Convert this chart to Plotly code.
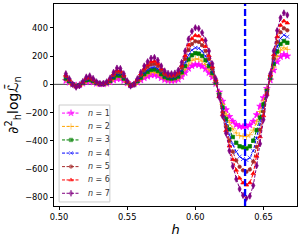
import plotly.graph_objects as go

# h grid (x values)
h = [0.505, 0.5075, 0.51, 0.5125, 0.515, 0.5175, 0.52, 0.5225, 0.525, 0.5275,
     0.53, 0.5325, 0.535, 0.5375, 0.54, 0.5425, 0.545, 0.5475, 0.55, 0.5525,
     0.555, 0.5575, 0.56, 0.5625, 0.565, 0.5675, 0.57, 0.5725, 0.575, 0.5775,
     0.58, 0.5825, 0.585, 0.5875, 0.59, 0.5925, 0.595, 0.5975, 0.6, 0.6025,
     0.605, 0.6075, 0.61, 0.6125, 0.615, 0.6175, 0.62, 0.6225, 0.625, 0.6275,
     0.63, 0.6325, 0.635, 0.6375, 0.64, 0.6425, 0.645, 0.6475, 0.65, 0.6525,
     0.655, 0.6575, 0.66, 0.6625, 0.665, 0.6675]

n1 = [26, 14, 0, -7, -4, 7, 18, 21, 15, 6,
      2, 2, 6, 16, 30, 40, 39, 26, 9, -4,
      0, 14, 30, 46, 56, 65, 67, 60, 46, 33,
      27, 26, 28, 35, 54, 82, 112, 131, 140, 138,
      128, 109, 82, 51, 5, -55, -120, -180, -228, -262,
      -285, -297, -300, -300, -288, -262, -215, -155, -95, -30,
      30, 100, 160, 195, 210, 200]
n2 = [34, 18, 0, -9, -5, 9, 23, 27, 19, 8,
      2, 3, 8, 20, 38, 52, 50, 34, 11, -5,
      0, 18, 38, 59, 72, 83, 86, 77, 59, 43,
      35, 34, 36, 45, 70, 106, 144, 169, 180, 178,
      164, 140, 106, 65, 8, -63, -141, -212, -270, -314,
      -344, -362, -368, -370, -356, -324, -265, -192, -117, -37,
      38, 122, 197, 241, 259, 247]
n3 = [41, 22, 0, -11, -6, 11, 29, 33, 23, 10,
      3, 3, 10, 25, 47, 63, 62, 41, 14, -7,
      0, 22, 47, 72, 88, 102, 105, 94, 72, 52,
      43, 41, 44, 55, 85, 129, 176, 206, 220, 217,
      201, 171, 129, 80, 13, -72, -163, -246, -318, -372,
      -413, -438, -445, -453, -438, -398, -324, -235, -142, -45,
      45, 144, 232, 285, 306, 294]
n4 = [48, 26, 0, -13, -6, 13, 34, 39, 27, 12,
      3, 4, 12, 29, 55, 74, 72, 48, 16, -8,
      0, 26, 55, 84, 103, 119, 123, 110, 84, 61,
      50, 48, 52, 65, 100, 152, 206, 242, 258, 255,
      235, 200, 152, 94, 18, -79, -182, -275, -360, -426,
      -477, -511, -528, -535, -519, -471, -383, -278, -168, -53,
      51, 164, 264, 325, 349, 336]
n5 = [57, 30, 0, -15, -8, 15, 40, 46, 32, 14,
      4, 5, 14, 34, 65, 87, 85, 57, 19, -9,
      0, 30, 65, 99, 122, 141, 144, 129, 99, 72,
      59, 57, 61, 76, 118, 179, 243, 285, 304, 300,
      277, 236, 179, 110, 24, -84, -198, -300, -397, -476,
      -538, -583, -608, -618, -602, -546, -442, -321, -193, -62,
      58, 185, 299, 368, 396, 382]
n6 = [65, 35, 0, -17, -9, 17, 45, 52, 36, 16,
      4, 5, 16, 39, 74, 99, 97, 65, 22, -10,
      0, 35, 74, 112, 138, 160, 164, 147, 112, 82,
      67, 65, 69, 87, 134, 203, 277, 324, 346, 342,
      316, 268, 203, 125, 32, -88, -214, -326, -436, -531,
      -607, -663, -697, -712, -696, -631, -508, -371, -222, -70,
      67, 209, 337, 417, 448, 434]
n7 = [75, 40, 0, -20, -10, 20, 52, 60, 42, 18,
      5, 6, 18, 45, 85, 115, 112, 75, 25, -12,
      0, 40, 85, 130, 160, 185, 190, 170, 130, 95,
      78, 75, 80, 100, 155, 235, 320, 375, 400, 395,
      365, 310, 235, 145, 40, -90, -225, -345, -470, -580,
      -670, -740, -785, -805, -790, -715, -575, -420, -250, -80,
      75, 235, 380, 470, 505, 490]

series = [n1, n2, n3, n4, n5, n6, n7]
labels = ["<i>n</i> = 1", "<i>n</i> = 2", "<i>n</i> = 3", "<i>n</i> = 4",
          "<i>n</i> = 5", "<i>n</i> = 6", "<i>n</i> = 7"]
colors = ["#FF00FF", "#FFA500", "#008000", "#0000FF", "#A52A2A", "#FF0000", "#800080"]
symbols = ["star", "cross-thin", "square", "x-thin", "circle", "triangle-up", "diamond-tall"]
sizes = [5, 4.5, 3.5, 4, 3.5, 4, 4.5]

h_crit = 0.6365

x_ticks = [0.50, 0.55, 0.60, 0.65]
x_ticktext = ["0.50", "0.55", "0.60", "0.65"]
y_ticks = [-800, -600, -400, -200, 0, 200, 400]
y_ticktext = ["\u2212800", "\u2212600", "\u2212400", "\u2212200", "0", "200", "400"]

FONT = "DejaVu Sans"
DASH = "3px,1.5px"

fig = go.Figure()
for y, lab, c, s, sz in zip(series, labels, colors, symbols, sizes):
    fig.add_trace(go.Scatter(
        x=h, y=y, mode="lines+markers", name=lab, showlegend=False,
        line=dict(color=c, width=1, dash=DASH),
        marker=dict(symbol=s, size=sz, color=c, line=dict(color=c, width=0.7)),
    ))

# --- hand-built legend on an overlay axis spanning the plot area (0..1) ---
leg_x0, leg_x1, leg_y0, leg_y1 = 0.021, 0.230, 0.020, 0.500
fig.add_trace(go.Scatter(
    x=[leg_x0, leg_x1, leg_x1, leg_x0, leg_x0], y=[leg_y0, leg_y0, leg_y1, leg_y1, leg_y0],
    xaxis="x2", yaxis="y2", mode="lines", fill="toself", fillcolor="white",
    line=dict(color="#cccccc", width=1), showlegend=False, hoverinfo="skip"))
row_y = [0.460, 0.394, 0.327, 0.262, 0.195, 0.129, 0.063]
for ry, lab, c, s, sz in zip(row_y, labels, colors, symbols, sizes):
    fig.add_trace(go.Scatter(
        x=[0.033, 0.070, 0.107], y=[ry, ry, ry], xaxis="x2", yaxis="y2",
        mode="lines+markers", showlegend=False, hoverinfo="skip",
        line=dict(color=c, width=1, dash=DASH),
        marker=dict(symbol=s, size=[0, sz, 0], color=c, line=dict(color=c, width=0.7))))
    fig.add_annotation(x=0.13, y=ry, xref="paper", yref="paper", text=lab,
                       showarrow=False, xanchor="left", yanchor="middle",
                       font=dict(family=FONT, size=8, color="#333333"))

fig.add_shape(type="line", xref="paper", yref="y", x0=0, x1=1, y0=0, y1=0,
              line=dict(color="#444444", width=1), layer="below")
fig.add_shape(type="line", xref="x", yref="paper", x0=h_crit, x1=h_crit, y0=0, y1=1,
              line=dict(color="#0000FF", width=2.3, dash="7px,3px"))

fig.update_layout(
    width=300, height=240, autosize=False,
    margin=dict(l=54, r=3, t=4, b=34, autoexpand=False),
    paper_bgcolor="white", plot_bgcolor="white",
    font=dict(family=FONT, size=8.3, color="black"),
    showlegend=False,
    xaxis=dict(range=[0.4963, 0.6746], tickvals=x_ticks, ticktext=x_ticktext,
               ticks="outside", ticklen=3.5, tickwidth=0.8, tickcolor="black",
               showline=True, mirror=True, linecolor="black", linewidth=0.8,
               showgrid=False, zeroline=False, automargin=False,
               title=dict(text="<i>h</i>", font=dict(family=FONT, size=13), standoff=3)),
    yaxis=dict(range=[-860, 568], tickvals=y_ticks, ticktext=y_ticktext,
               ticks="outside", ticklen=3.5, tickwidth=0.8, tickcolor="black",
               showline=True, mirror=True, linecolor="black", linewidth=0.8,
               showgrid=False, zeroline=False, automargin=False,
               title=dict(text="\u2202<sup>2</sup><sub>h</sub>log<i>\u2112\u0304</i><sub>n</sub>",
                          font=dict(family=FONT, size=14), standoff=3)),
    xaxis2=dict(range=[0, 1], overlaying="x", anchor="y2", visible=False, fixedrange=True),
    yaxis2=dict(range=[0, 1], overlaying="y", anchor="x2", visible=False, fixedrange=True),
)

fig.write_html("out.html", config={"displayModeBar": False, "responsive": False},
               post_script="document.body.style.margin='0';document.body.style.padding='0';")
